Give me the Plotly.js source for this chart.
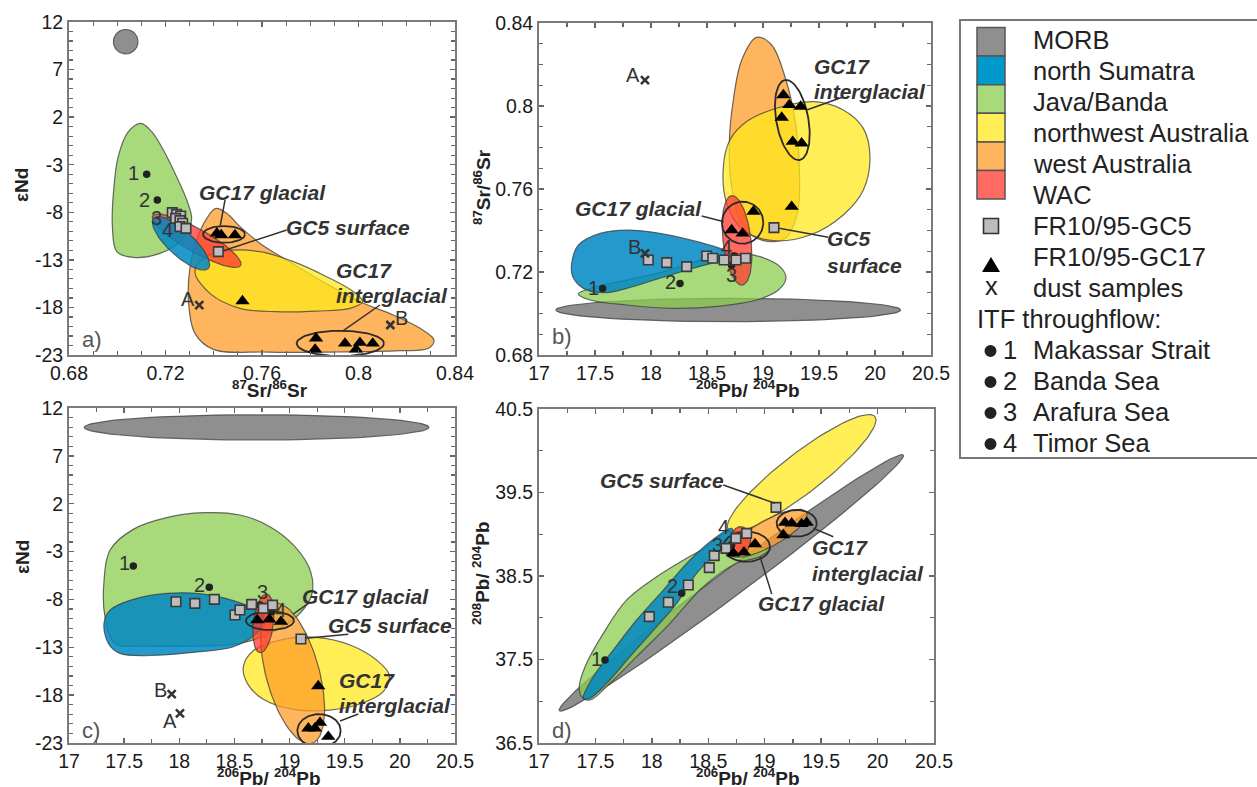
<!DOCTYPE html>
<html><head><meta charset="utf-8">
<script src="https://cdn.plot.ly/plotly-3.0.1.min.js"></script>
<style>html,body{margin:0;padding:0;background:#fff}#chart{width:1257px;height:787px}</style>
</head><body><div id="chart"></div>
<script>
// ================= DATA =================
// ---- panel a : 87Sr/86Sr vs eNd ----
const a_gc5_x = [0.7228,0.7246,0.7263,0.7242,0.7260,0.7271,0.7260,0.7285,0.7419];
const a_gc5_y = [-8.04,-8.22,-8.39,-8.64,-8.88,-9.16,-9.51,-9.69,-12.14];
const a_gc17_x = [0.7413,0.7431,0.7488,0.7519,0.7824,0.7820,0.7944,0.7990,0.8006,0.8059];
const a_gc17_y = [-10.21,-10.39,-10.39,-17.33,-21.25,-22.41,-21.78,-22.41,-21.71,-21.78];
const a_itf_x = [0.7122,0.7166,0.7239,0.7267];
const a_itf_y = [-4.01,-6.71,-8.64,-9.51];
const a_dust_x = [0.7340,0.8132];
const a_dust_y = [-17.75,-19.85];
const a_java_x = [0.7098,0.7143,0.7191,0.7246,0.7288,0.7308,0.7267,0.7177,0.7067,0.6998,0.6980,0.6984,0.7004,0.7046];
const a_java_y = [1.35,0.47,-1.45,-4.26,-6.71,-8.81,-10.92,-12.32,-12.74,-12.14,-9.51,-6.01,-2.16,0.47];
const a_west_x = [0.7409,0.7454,0.7509,0.7592,0.7702,0.7840,0.8006,0.8144,0.8255,0.8313,0.8290,0.8172,0.7896,0.7619,0.7398,0.7322,0.7295,0.7302,0.7329,0.7371];
const a_west_y = [-7.59,-8.11,-9.51,-11.27,-13.02,-15.12,-17.40,-18.80,-20.20,-21.43,-22.30,-22.55,-22.69,-22.69,-22.41,-20.73,-17.22,-13.72,-10.92,-8.64];
const a_nw_x = [0.7322,0.7357,0.7454,0.7592,0.7730,0.7868,0.7979,0.8017,0.7965,0.7827,0.7661,0.7509,0.7384];
const a_nw_y = [-14.24,-12.84,-12.04,-12.14,-13.19,-14.77,-16.35,-17.40,-18.10,-18.38,-18.45,-18.10,-16.52];
// ellipses: [centre x, centre y, semi-axis 1 (dx, dy), semi-axis 2 (dx, dy)]
const a_morb_ell = [0.7035, 9.93, 0.0051, 0, 0, 1.29];
const a_sum_ell  = [0.72643, -11.27, 0.01133, -2.628, -0.00355, -0.985];
const a_wac_ell  = [0.73292, -10.99, 0.01824, -2.593, -0.00238, -1.072];
const a_glac_ring  = [0.74425, -10.32, 0.0087, 0, 0, 0.876];
const a_inter_ring = [0.79247, -21.78, 0.0181, 0, 0, 1.33];

// ---- panel b : 206Pb/204Pb vs 87Sr/86Sr ----
const b_gc5_x = [17.976,18.140,18.318,18.497,18.551,18.652,18.759,18.845,19.098];
const b_gc5_y = [0.7258,0.7245,0.7226,0.7277,0.7266,0.7258,0.7258,0.7266,0.7414];
const b_gc17_x = [19.182,19.235,19.336,19.167,19.265,19.345,18.914,18.720,18.818,19.256];
const b_gc17_y = [0.8053,0.8005,0.7997,0.7944,0.7828,0.7820,0.7491,0.7402,0.7386,0.7515];
const b_itf_x = [17.568,18.259,18.720,18.744];
const b_itf_y = [0.7121,0.7145,0.7234,0.7277];
const b_dust_x = [17.946,17.946];
const b_dust_y = [0.8125,0.7290];
const b_java_x = [17.351,17.485,17.783,18.140,18.497,18.735,18.973,19.152,19.205,19.137,18.943,18.616,18.199,17.783,17.455];
const b_java_y = [0.7094,0.7126,0.7161,0.7206,0.7266,0.7290,0.7274,0.7226,0.7170,0.7113,0.7065,0.7036,0.7025,0.7041,0.7065];
const b_sum_x = [17.292,17.351,17.545,17.783,18.080,18.378,18.616,18.765,18.646,18.378,18.080,17.783,17.574,17.396,17.301];
const b_sum_y = [0.7242,0.7330,0.7386,0.7402,0.7386,0.7351,0.7314,0.7282,0.7258,0.7218,0.7170,0.7121,0.7100,0.7121,0.7178];
const b_west_x = [18.943,19.077,19.196,19.286,19.324,19.307,19.196,19.003,18.824,18.720,18.699,18.735,18.810];
const b_west_y = [0.8331,0.8294,0.8141,0.7933,0.7708,0.7483,0.7362,0.7351,0.7419,0.7611,0.7820,0.8029,0.8222];
const b_nw_x = [18.646,18.705,18.854,19.122,19.449,19.717,19.896,19.955,19.896,19.717,19.420,19.092,18.824,18.676];
const b_nw_y = [0.7708,0.7836,0.7925,0.7989,0.8021,0.7981,0.7892,0.7756,0.7595,0.7475,0.7378,0.7351,0.7402,0.7531];
const b_morb_ell = [18.690, 0.7017, 1.539, 0, 0, 0.00562];
const b_wac_ell  = [18.768, 0.73526, -0.0476, 0.02153, 0.124, 0.0008];
const b_glac_ring  = [18.818, 0.74378, 0.1845, 0, 0, 0.01012];
const b_inter_ring = [19.262, 0.79325, -0.0655, 0.01928, 0.1405, 0.0014];

// ---- panel c : 206Pb/204Pb vs eNd ----
const c_gc5_x = [17.970,18.142,18.318,18.505,18.550,18.656,18.762,18.846,19.103];
const c_gc5_y = [-8.24,-8.41,-7.99,-9.63,-9.11,-8.52,-8.93,-8.59,-12.14];
const c_gc17_x = [18.707,18.816,18.922,19.260,19.170,19.230,19.276,19.351];
const c_gc17_y = [-10.15,-10.08,-10.33,-17.05,-21.47,-21.47,-20.88,-22.34];
const c_itf_x = [17.583,18.272,18.732,18.837];
const c_itf_y = [-4.51,-6.74,-8.59,-9.28];
const c_dust_x = [18.006,17.931];
const c_dust_y = [-19.90,-17.89];
const c_java_x = [17.317,17.372,17.583,17.885,18.218,18.550,18.822,19.049,19.191,19.200,19.079,18.853,18.550,18.127,17.704,17.417,17.326];
const c_java_y = [-6.15,-2.84,-0.68,0.54,1.06,0.82,-0.40,-2.49,-5.10,-7.54,-9.63,-11.37,-12.59,-12.87,-12.87,-12.59,-9.80];
const c_sum_x = [17.317,17.372,17.583,17.885,18.218,18.490,18.701,18.792,18.701,18.490,18.188,17.825,17.462,17.357];
const c_sum_y = [-10.50,-9.11,-7.99,-7.37,-7.44,-8.13,-9.11,-10.15,-11.55,-12.94,-13.46,-13.81,-13.64,-12.59];
const c_nw_x = [18.581,18.671,18.943,19.245,19.548,19.789,19.904,19.850,19.638,19.366,19.034,18.762,18.617];
const c_nw_y = [-15.03,-13.36,-12.17,-11.96,-12.76,-14.33,-15.90,-17.64,-18.93,-19.56,-19.49,-18.44,-16.77];
const c_morb_ell = [18.701, 9.98, 1.5624, 0, 0, 1.32];
const c_west_ell = [19.028, -15.73, 0.1723, -7.314, 0.2327, 0.731];
const c_wac_ell  = [18.762, -10.50, 0.0302, 3.065, 0.0901, -0.118];
const c_glac_ring  = [18.822, -10.22, 0.2176, 0, 0, 0.975];
const c_inter_ring = [19.267, -21.72, 0.1964, 0, 0, 1.74];

// ---- panel d : 206Pb/204Pb vs 208Pb/204Pb ----
const d_gc5_x = [17.978,18.146,18.323,18.509,18.553,18.657,18.745,18.840,19.100];
const d_gc5_y = [38.013,38.185,38.392,38.600,38.744,38.831,38.951,39.011,39.322];
const d_gc17_x = [18.722,18.816,18.914,19.180,19.239,19.327,19.372,19.165];
const d_gc17_y = [38.771,38.783,38.883,39.139,39.131,39.123,39.139,38.991];
const d_itf_x = [17.585,18.264,18.707,18.751];
const d_itf_y = [37.494,38.292,38.871,38.971];
const d_java_x = [17.357,17.408,17.570,17.777,18.043,18.308,18.486,18.663,18.751,18.929,19.047,18.958,18.751,18.456,18.161,17.865,17.629,17.452,17.378];
const d_java_y = [37.175,37.414,37.813,38.213,38.492,38.712,38.851,39.031,39.011,38.851,38.831,38.732,38.652,38.372,37.933,37.534,37.215,37.015,37.055];
const d_sum_x = [17.393,17.481,17.659,17.865,18.102,18.338,18.574,18.707,18.722,18.574,18.397,18.220,18.043,17.806,17.600,17.452];
const d_sum_y = [37.035,37.294,37.614,37.973,38.332,38.692,38.971,39.071,38.971,38.771,38.532,38.173,37.893,37.534,37.215,37.035];
const d_morb_ell = [18.704, 38.418, 1.524, 1.531, 0.0706, -0.128];
const d_nw_ell   = [19.327, 39.730, 0.6497, 0.6786, 0.1093, -0.1876];
const d_west_ell = [19.032, 39.011, 0.3396, 0.2515, 0.0561, -0.1397];
const d_wac_ell  = [18.787, 38.931, 0.0886, 0, 0, 0.16];
const d_glac_ring  = [18.840, 38.851, 0.2067, 0, 0, 0.18];
const d_inter_ring = [19.283, 39.131, 0.1772, 0, 0, 0.16];

// ---- labels & ticks ----
const itf_labels = ['1','2','3','4'];
const dust_labels_ab = ['A','B'];
const dust_labels_c = ['A','B'];
const srTickVals = [0.68,0.72,0.76,0.8,0.84];
const srTickText = ['0.68','0.72','0.76','0.8','0.84'];
const ndTickVals = [-23,-18,-13,-8,-3,2,7,12];
const ndTickText = ['-23','-18','-13','-8','-3','2','7','12'];
const pb6TickVals = [17,17.5,18,18.5,19,19.5,20,20.5];
const pb6TickText = ['17','17.5','18','18.5','19','19.5','20','20.5'];
const pb8TickVals = [36.5,37.5,38.5,39.5,40.5];
const pb8TickText = ['36.5','37.5','38.5','39.5','40.5'];
const legendRegions = ['MORB','north Sumatra','Java/Banda','northwest Australia','west Australia','WAC'];
const legendPoints = ['FR10/95-GC5','FR10/95-GC17','dust samples'];
const itfNames = ['Makassar Strait','Banda Sea','Arafura Sea','Timor Sea'];

// ================= STYLE =================
const FILL = {
  morb:'rgba(131,131,131,0.9)', sum:'rgba(0,135,195,0.85)', java:'rgba(139,206,80,0.75)',
  nw:'rgba(255,232,28,0.75)', west:'rgba(255,156,40,0.75)', wac:'rgba(255,58,47,0.75)'
};
const SOLID = ['#8f8f8f','#0099cc','#a8da7c','#ffee55','#ffb55e','#ff6b63'];
const W=1257, H=787;
const px = x => x/W, py = y => 1 - y/H;
const FONT = 'Liberation Sans, Arial, Helvetica, sans-serif';

function ell(e, n){
  n = n || 90; const xs=[], ys=[];
  for(let i=0;i<=n;i++){ const t=2*Math.PI*i/n;
    xs.push(e[0]+e[2]*Math.cos(t)+e[4]*Math.sin(t));
    ys.push(e[1]+e[3]*Math.cos(t)+e[5]*Math.sin(t)); }
  return {x:xs, y:ys};
}
function close(a){ return a.concat([a[0]]); }
function ax(i){ return i===1 ? ['x','y'] : ['x'+i,'y'+i]; }
function region(xs, ys, color, i, spline){
  const [xa,ya]=ax(i);
  return {type:'scatter', mode:'lines', x:close(xs), y:close(ys), fill:'toself', fillcolor:color,
    line:{color:'rgba(60,60,60,0.75)', width:1.2, shape: spline?'spline':'linear', smoothing:1},
    xaxis:xa, yaxis:ya, hoverinfo:'skip'};
}
function ellRegion(e, color, i){ const p=ell(e); const [xa,ya]=ax(i);
  return {type:'scatter', mode:'lines', x:p.x, y:p.y, fill:'toself', fillcolor:color,
    line:{color:'rgba(60,60,60,0.75)', width:1.2}, xaxis:xa, yaxis:ya, hoverinfo:'skip'}; }
function ring(e, i){ const p=ell(e); const [xa,ya]=ax(i);
  return {type:'scatter', mode:'lines', x:p.x, y:p.y, line:{color:'#2a2a2a', width:1.8}, xaxis:xa, yaxis:ya, hoverinfo:'skip'}; }
function pts(xs, ys, kind, i){
  const [xa,ya]=ax(i);
  const m = {
    gc5:{symbol:'square', size:9.5, color:'#bdbdbd', line:{color:'#3a3a3a', width:1.6}},
    gc17:{symbol:'triangle-up', size:12.5, color:'#000', line:{width:0}},
    itf:{symbol:'circle', size:7.5, color:'#222', line:{width:0}},
    dust:{symbol:'x-thin', size:8, color:'#333', line:{color:'#333', width:2.6}}
  }[kind];
  return {type:'scatter', mode:'markers', x:xs, y:ys, marker:m, xaxis:xa, yaxis:ya, hoverinfo:'skip'};
}

const traces = [
  // panel a
  region(a_west_x, a_west_y, FILL.west, 1, true),
  region(a_nw_x, a_nw_y, FILL.nw, 1, true),
  region(a_java_x, a_java_y, FILL.java, 1, true),
  ellRegion(a_wac_ell, FILL.wac, 1),
  ellRegion(a_sum_ell, FILL.sum, 1),
  ellRegion(a_morb_ell, FILL.morb, 1),
  ring(a_glac_ring, 1), ring(a_inter_ring, 1),
  pts(a_itf_x, a_itf_y, 'itf', 1), pts(a_gc5_x, a_gc5_y, 'gc5', 1),
  pts(a_gc17_x, a_gc17_y, 'gc17', 1), pts(a_dust_x, a_dust_y, 'dust', 1),
  // panel b
  ellRegion(b_morb_ell, FILL.morb, 2),
  region(b_java_x, b_java_y, FILL.java, 2, true),
  region(b_sum_x, b_sum_y, FILL.sum, 2, true),
  region(b_west_x, b_west_y, FILL.west, 2, true),
  region(b_nw_x, b_nw_y, FILL.nw, 2, true),
  ellRegion(b_wac_ell, FILL.wac, 2),
  ring(b_glac_ring, 2), ring(b_inter_ring, 2),
  pts(b_itf_x, b_itf_y, 'itf', 2), pts(b_gc5_x, b_gc5_y, 'gc5', 2),
  pts(b_gc17_x, b_gc17_y, 'gc17', 2), pts(b_dust_x, b_dust_y, 'dust', 2),
  // panel c
  ellRegion(c_morb_ell, FILL.morb, 3),
  region(c_java_x, c_java_y, FILL.java, 3, true),
  region(c_sum_x, c_sum_y, FILL.sum, 3, true),
  region(c_nw_x, c_nw_y, FILL.nw, 3, true),
  ellRegion(c_west_ell, FILL.west, 3),
  ellRegion(c_wac_ell, FILL.wac, 3),
  ring(c_glac_ring, 3), ring(c_inter_ring, 3),
  pts(c_itf_x, c_itf_y, 'itf', 3), pts(c_gc5_x, c_gc5_y, 'gc5', 3),
  pts(c_gc17_x, c_gc17_y, 'gc17', 3), pts(c_dust_x, c_dust_y, 'dust', 3),
  // panel d
  ellRegion(d_morb_ell, FILL.morb, 4),
  ellRegion(d_nw_ell, FILL.nw, 4),
  region(d_java_x, d_java_y, FILL.java, 4, true),
  region(d_sum_x, d_sum_y, FILL.sum, 4, true),
  ellRegion(d_west_ell, FILL.west, 4),
  ellRegion(d_wac_ell, FILL.wac, 4),
  ring(d_glac_ring, 4), ring(d_inter_ring, 4),
  pts(d_itf_x, d_itf_y, 'itf', 4), pts(d_gc5_x, d_gc5_y, 'gc5', 4),
  pts(d_gc17_x, d_gc17_y, 'gc17', 4)
];

// ================= LAYOUT =================
function axisBase(extra){
  return Object.assign({
    showline:true, linecolor:'#7a7a7a', linewidth:2, mirror:'allticks',
    ticks:'inside', ticklen:5, tickwidth:1.5, tickcolor:'#666',
    showgrid:false, zeroline:false, tickmode:'array', fixedrange:true,
    tickfont:{family:FONT, size:19.5, color:'#1a1a1a'}
  }, extra);
}
function minor(d, t0){ return {tickmode:'linear', dtick:d, tick0:t0, ticks:'inside', ticklen:4, tickwidth:1.2, tickcolor:'#666', showgrid:false}; }

const annotations = [];
const shapes = [];
function txt(text, x, y, o){ annotations.push(Object.assign({text, x:px(x), y:py(y), xref:'paper', yref:'paper',
  showarrow:false, xanchor:'center', yanchor:'middle', font:{family:FONT, size:20, color:'#222'}}, o||{})); }
function callout(text, x, y, anchor){ txt('<b><i>'+text+'</i></b>', x, y, {xanchor:anchor, font:{family:FONT, size:21, color:'#333'}}); }
function leader(x0,y0,x1,y1){ shapes.push({type:'line', xref:'paper', yref:'paper', x0:px(x0), y0:py(y0), x1:px(x1), y1:py(y1), line:{color:'#333', width:1.5}}); }
function ptLabel(i, xs, ys, labels, shifts){
  const [xa,ya]=ax(i);
  labels.forEach((t,k)=>annotations.push({text:t, x:xs[k], y:ys[k], xref:xa, yref:ya, showarrow:false,
    xshift:shifts[k][0], yshift:shifts[k][1], font:{family:FONT, size:20, color:'#333'}}));
}

// axis titles
const SR = '<b><sup>87</sup>Sr/<sup>86</sup>Sr</b>';
const PB6 = '<b><sup>206</sup>Pb/ <sup>204</sup>Pb</b>';
const TF = {family:FONT, size:19, color:'#222'};
txt('<b>εNd</b>', 21, 185, {textangle:-90, font:TF});
txt(SR, 270, 389, {font:TF});
txt(SR, 482, 187, {textangle:-90, font:TF});
txt(PB6, 748, 389, {font:TF});
txt('<b>εNd</b>', 22, 557, {textangle:-90, font:TF});
txt(PB6, 269, 777, {font:TF});
txt('<b><sup>208</sup>Pb/ <sup>204</sup>Pb</b>', 481, 573, {textangle:-90, font:TF});
txt(PB6, 748, 777, {font:TF});
// panel letters
txt('a)', 80, 339, {xanchor:'left', font:{family:FONT, size:22, color:'#555'}});
txt('b)', 550, 337, {xanchor:'left', font:{family:FONT, size:22, color:'#555'}});
txt('c)', 80, 730, {xanchor:'left', font:{family:FONT, size:22, color:'#555'}});
txt('d)', 550, 730, {xanchor:'left', font:{family:FONT, size:22, color:'#555'}});

// call-outs
callout('GC17 glacial', 262.5, 192, 'center'); callout('GC5 surface', 348.3, 228, 'center');
callout('GC17', 334, 270, 'left'); callout('interglacial', 334, 295, 'left');
leader(225,200,220,227); leader(286.7,230,223.3,250.7); leader(380,305,343.3,330.7);

callout('GC17', 812, 66.7, 'left'); callout('interglacial', 812, 91.7, 'left');
callout('GC17 glacial', 638.3, 208.3, 'center');
callout('GC5', 825, 238.3, 'left'); callout('surface', 825, 265, 'left');
leader(806.7,110,843,97); leader(701.7,216,724,221.7); leader(779.3,228.3,828.3,237.3);

callout('GC17 glacial', 365, 596.7, 'center'); callout('GC5 surface', 390, 625, 'center');
callout('GC17', 337, 680, 'left'); callout('interglacial', 337, 705, 'left');
leader(293.3,614,308.3,603.3); leader(306,638.3,348.3,634.3); leader(340,721,358.3,714);

callout('GC5 surface', 661.7, 480, 'center');
callout('GC17', 810, 547, 'left'); callout('interglacial', 810, 573, 'left');
callout('GC17 glacial', 821, 603, 'center');
leader(723.3,485,775,503.3); leader(813.3,528.3,833.3,536.7); leader(760,556.7,771.7,594);

// point labels
ptLabel(1, a_itf_x, a_itf_y, itf_labels, [[-13,1],[-13,0],[-18,0],[-14,-3]]);
ptLabel(2, b_itf_x, b_itf_y, itf_labels, [[-9,0],[-10,1],[0,-10],[-8,9]]);
ptLabel(3, c_itf_x, c_itf_y, itf_labels, [[-9,3],[-10,2],[2,13],[9,2]]);
ptLabel(4, d_itf_x, d_itf_y, itf_labels, [[-9,1],[-9,7],[-14,0],[-13,10]]);
ptLabel(1, a_dust_x, a_dust_y, dust_labels_ab, [[-11,6],[11,7]]);
ptLabel(2, b_dust_x, b_dust_y, dust_labels_ab, [[-12,5],[-10,6]]);
ptLabel(3, c_dust_x, c_dust_y, dust_labels_c, [[-10,-8],[-11,4]]);

// legend
shapes.push({type:'rect', xref:'paper', yref:'paper', x0:px(960), x1:px(1266), y0:py(458), y1:py(20), line:{color:'#777', width:2}, fillcolor:'rgba(0,0,0,0)'});
legendRegions.forEach((name,k)=>{
  const top = 27.5 + k*28.6;
  shapes.push({type:'rect', xref:'paper', yref:'paper', x0:px(977), x1:px(1005), y0:py(top+28.6), y1:py(top), fillcolor:SOLID[k], line:{color:'#555', width:1.5}});
});
const allLegend = legendRegions.concat(legendPoints);
allLegend.forEach((name,k)=>txt(name, 1031, 40 + k*31, {xanchor:'left', font:{family:FONT, size:25.5, color:'#222'}}));
txt('ITF throughflow:', 975, 40 + 9*31, {xanchor:'left', font:{family:FONT, size:25.5, color:'#222'}});
itfNames.forEach((name,k)=>{
  const y = 40 + (10+k)*31;
  txt(name, 1031, y, {xanchor:'left', font:{family:FONT, size:25.5, color:'#222'}});
  txt(itf_labels[k], 1010, y, {font:{family:FONT, size:25.5, color:'#222'}});
  const cy = y + 1;
  shapes.push({type:'circle', xref:'paper', yref:'paper', x0:px(984.5), x1:px(996.5), y0:py(cy+6), y1:py(cy-6), fillcolor:'#222', line:{width:0}});
});
shapes.push({type:'rect', xref:'paper', yref:'paper', x0:px(983.5), x1:px(998.5), y0:py(233.5), y1:py(218.5), fillcolor:'#bdbdbd', line:{color:'#333', width:1.6}});
shapes.push({type:'path', xref:'paper', yref:'paper', path:`M ${px(991)} ${py(257)} L ${px(1000)} ${py(272)} L ${px(982)} ${py(272)} Z`, fillcolor:'#000', line:{width:0}});
txt('x', 991, 286, {font:{family:FONT, size:25.5, color:'#222'}});

const layout = {
  width:W, height:H, margin:{l:0,r:0,t:0,b:0}, paper_bgcolor:'#fff', plot_bgcolor:'#fff',
  showlegend:false, font:{family:FONT, color:'#222'},
  xaxis: axisBase({domain:[px(69),px(455)], range:[0.68,0.84], anchor:'y', tickvals:srTickVals, ticktext:srTickText, minor:minor(0.01,0.68)}),
  yaxis: axisBase({domain:[py(355),py(22)], range:[-23,12], anchor:'x', tickvals:ndTickVals, ticktext:ndTickText, minor:minor(1,-23)}),
  xaxis2: axisBase({domain:[px(539),px(931)], range:[17,20.5], anchor:'y2', tickvals:pb6TickVals, ticktext:pb6TickText, minor:minor(0.25,17)}),
  yaxis2: axisBase({domain:[py(355),py(23)], range:[0.68,0.84], anchor:'x2', tickvals:srTickVals, ticktext:srTickText, minor:minor(0.01,0.68)}),
  xaxis3: axisBase({domain:[px(69),px(455)], range:[17,20.5], anchor:'y3', tickvals:pb6TickVals, ticktext:pb6TickText, minor:minor(0.25,17)}),
  yaxis3: axisBase({domain:[py(743),py(408)], range:[-23,12], anchor:'x3', tickvals:ndTickVals, ticktext:ndTickText, minor:minor(1,-23)}),
  xaxis4: axisBase({domain:[px(539),px(934)], range:[17,20.5], anchor:'y4', tickvals:pb6TickVals, ticktext:pb6TickText, minor:minor(0.25,17)}),
  yaxis4: axisBase({domain:[py(743),py(409)], range:[36.5,40.5], anchor:'x4', tickvals:pb8TickVals, ticktext:pb8TickText, minor:minor(0.5,36.5)}),
  annotations, shapes
};
Plotly.newPlot('chart', traces, layout, {staticPlot:true, displayModeBar:false});
</script></body></html>
